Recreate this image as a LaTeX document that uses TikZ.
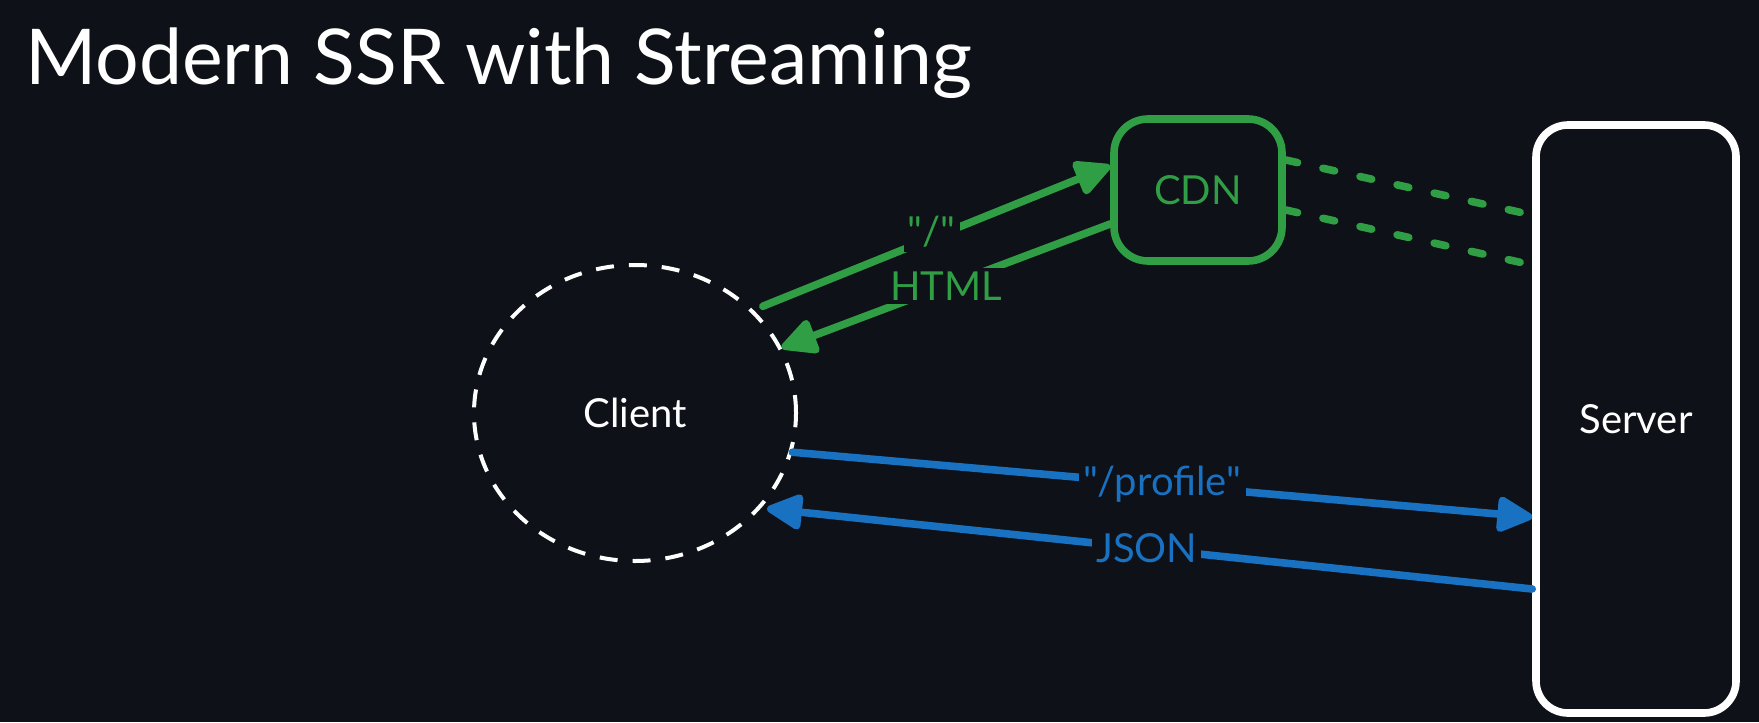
\documentclass[tikz,border=0pt]{standalone}
\usepackage{fontspec}
\setmainfont{Lato}
\usepackage{tikz}
\usetikzlibrary{arrows.meta,shapes.geometric}
\definecolor{bgdark}{HTML}{0E1117}
\definecolor{cdngreen}{HTML}{2F9E44}
\definecolor{apiblue}{HTML}{1971C2}

\begin{document}
\begin{tikzpicture}[
  x=0.5pt,y=-0.5pt,
  lbl/.style={font=\fontsize{20}{24}\selectfont},
  ring/.style={ellipse,draw=white,line width=2pt,dash pattern=on 9pt off 7.5pt,
               minimum width=161pt,minimum height=148pt,text=white,lbl},
  cdnbox/.style={draw=cdngreen,line width=3.8pt,rounded corners=17pt,
                 minimum width=84pt,minimum height=71pt,text=cdngreen,lbl},
  srvbox/.style={draw=white,line width=3.8pt,rounded corners=16pt,
                 minimum width=100pt,minimum height=294pt,text=white,lbl},
  flow/.style={line width=3.8pt,line cap=round,-{Triangle[length=20pt,width=19pt,round]}},
  link/.style={cdngreen,line width=3.8pt,line cap=round,dash pattern=on 6pt off 13pt},
  tag/.style={fill=bgdark,inner sep=2pt,lbl}
]
\path[use as bounding box,fill=bgdark] (0,0) rectangle (1759,722);
\node[anchor=base west,text=white,font=\fontsize{38.5}{46}\selectfont] (title) at (18,84) {Modern SSR with Streaming};
\node[ring] (client) at (635,413) {Client};
\node[cdnbox] (cdn) at (1198,190) {CDN};
\node[srvbox] (server) at (1636,419) {Server};
\draw[flow,cdngreen,shorten <=5pt] (client.41) -- ([yshift=12pt]cdn.west) node[tag,text=cdngreen,pos=.5,yshift=3pt] {\textquotedbl/\textquotedbl};
\draw[flow,cdngreen] ([yshift=-17pt]cdn.west) -- (client.24) node[tag,text=cdngreen,pos=.5] {HTML};
\draw[link] ([yshift=15pt]cdn.east) -- ([yshift=102pt]server.west);
\draw[link] ([yshift=-10pt]cdn.east) -- ([yshift=77pt]server.west);
\draw[flow,apiblue] (client.-14) -- ([yshift=-49pt]server.west) node[tag,text=apiblue,pos=.5] {\textquotedbl/profile\textquotedbl};
\draw[flow,apiblue,shorten >=3pt] ([yshift=-85pt]server.west) -- (client.-37) node[tag,text=apiblue,pos=.5] {JSON};
\end{tikzpicture}
\end{document}
